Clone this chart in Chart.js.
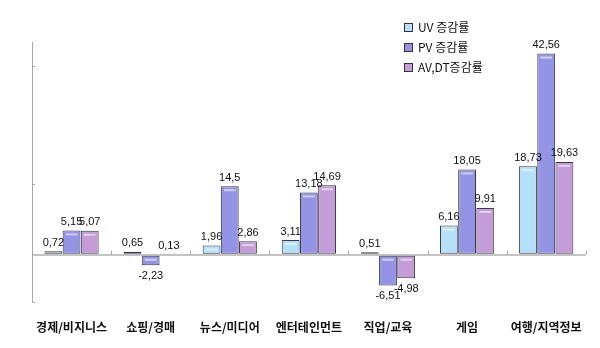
<!DOCTYPE html>
<html>
<head>
<meta charset="utf-8">
<script src="https://cdn.jsdelivr.net/npm/chart.js@4"></script>
<style>
  html,body{margin:0;padding:0;background:#fff;}
  #wrap{position:relative;width:600px;height:348px;}
  #legend{position:absolute;left:404px;top:17px;font:12px "Noto Sans CJK KR","Liberation Sans",sans-serif;color:#111;}
  #legend div{height:20px;line-height:20px;white-space:nowrap;}
  #legend i{display:inline-block;width:7px;height:7px;border:1px solid #333;margin-right:5px;vertical-align:0px;}
</style>
</head>
<body>
<div id="wrap">
  <canvas id="c" width="600" height="348"></canvas>
  <div id="legend"></div>
</div>
<script>
const categories = ["경제/비지니스","쇼핑/경매","뉴스/미디어","엔터테인먼트","직업/교육","게임","여행/지역정보"];
const uvRate = [0.72, 0.65, 1.96, 3.11, 0.51, 6.16, 18.73];
const pvRate = [5.15, -2.23, 14.5, 13.18, -6.51, 18.05, 42.56];
const avRate = [5.07, 0.13, 2.86, 14.69, -4.98, 9.91, 19.63];
const seriesNames = ["UV 증감률","PV 증감률","AV,DT증감률"];
const seriesColors = ["#b4e0fa","#9494e6","#c39cd8"];
const yTicks = [-10, 0, 15, 40];

const byId = (id)=>document.getElementById(id);

// legend (html, stacked like the original)
byId("legend").innerHTML = seriesNames.map((n,i)=>
  `<div><i style="background:${seriesColors[i]}"></i>${n}</div>`).join("");

const fmt = (v)=> String(v).replace(".", ",");

// value labels + highlight stripe on each bar
const barDecor = {
  id: "barDecor",
  afterDatasetsDraw(chart){
    const ctx = chart.ctx;
    ctx.save();
    chart.data.datasets.forEach((ds, di)=>{
      const meta = chart.getDatasetMeta(di);
      meta.data.forEach((bar, i)=>{
        const v = ds.data[i];
        const top = Math.min(bar.y, bar.base), bot = Math.max(bar.y, bar.base);
        const half = bar.width/2;
        if(bot - top > 6){
          ctx.fillStyle = "rgba(255,255,255,0.55)";
          ctx.fillRect(bar.x - half + 3, top + 3, bar.width - 6, 2);
        }
        ctx.fillStyle = "#111";
        ctx.font = '11px "Liberation Sans", Arial, sans-serif';
        ctx.textAlign = "center";
        if(v >= 0){
          ctx.textBaseline = "bottom";
          ctx.fillText(fmt(v), bar.x, bar.y - 3);
        } else {
          ctx.textBaseline = "top";
          ctx.fillText(fmt(v), bar.x, bar.y + 5);
        }
      });
    });
    ctx.restore();
  }
};

// small inside tick marks on the value axis and the zero line
const axisMarks = {
  id: "axisMarks",
  afterDraw(chart){
    const ctx = chart.ctx, x = chart.scales.x, y = chart.scales.y;
    const left = chart.chartArea.left;
    ctx.save();
    ctx.strokeStyle = "#a8a8a8";
    ctx.lineWidth = 1;
    ctx.beginPath();
    yTicks.filter(v=>v!==0).forEach(v=>{
      const py = Math.round(y.getPixelForValue(v)) + 0.5;
      ctx.moveTo(left, py); ctx.lineTo(left + 3, py);
    });
    const zy = y.getPixelForValue(0);
    for(let i=1;i<=categories.length;i++){
      const px = Math.round(x.getPixelForValue(i - 0.5)) + 0.5;
      ctx.moveTo(px, zy); ctx.lineTo(px, zy - 4);
    }
    ctx.stroke();
    ctx.restore();
  }
};

new Chart(byId("c"), {
  type: "bar",
  data: {
    labels: categories,
    datasets: [uvRate, pvRate, avRate].map((d,i)=>({
      label: seriesNames[i],
      data: d,
      backgroundColor: seriesColors[i],
      borderColor: "#3a3a44",
      borderWidth: 1,
      borderSkipped: false,
      categoryPercentage: 0.69,
      barPercentage: 0.98
    }))
  },
  options: {
    responsive: false,
    animation: false,
    layout: { padding: { left: 32, right: 5, top: 42, bottom: 14 } },
    plugins: { legend: { display: false }, tooltip: { enabled: false } },
    scales: {
      x: {
        afterFit: (s)=>{ s.height = 32; },
        grid: { display: false, drawTicks: false },
        border: { display: false },
        ticks: { padding: 18, maxRotation: 0, color: "#111", font: { size: 12, weight: "bold", family: '"Noto Sans CJK KR", sans-serif' } }
      },
      y: {
        min: -10, max: 45,
        afterBuildTicks: (s)=>{ s.ticks = yTicks.map(v=>({value:v})); },
        ticks: { display: false },
        grid: {
          drawTicks: false,
          color: (c)=> c.tick && c.tick.value === 0 ? "#c4c4c4" : "rgba(0,0,0,0)",
          lineWidth: (c)=> c.tick && c.tick.value === 0 ? 2 : 0
        },
        border: { display: true, color: "#a8a8a8", width: 1 }
      }
    }
  },
  plugins: [barDecor, axisMarks]
});
</script>
</body>
</html>
